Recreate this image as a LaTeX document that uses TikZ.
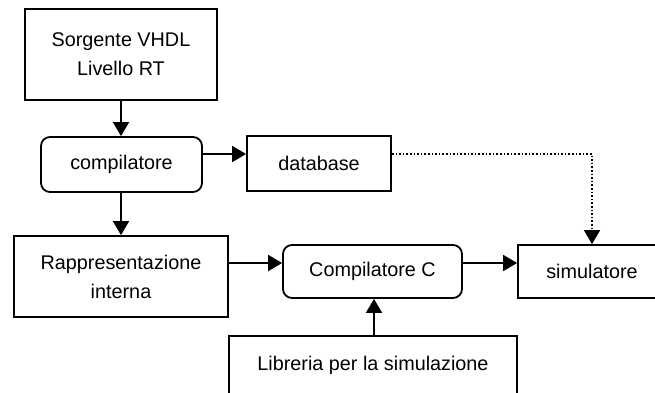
\documentclass[tikz,border=0pt]{standalone}
\usepackage{fontspec}
\setmainfont{Liberation Sans}
\usetikzlibrary{arrows.meta,calc}
\begin{document}
\begin{tikzpicture}[x=1pt,y=-1pt,
  every node/.style={font=\fontsize{19.8}{29}\selectfont, align=center, inner sep=0pt},
  sqbox/.style={draw, line width=1.8pt, rectangle},
  rbox/.style={draw, line width=1.8pt, rectangle, rounded corners=9pt},
  arr/.style={line width=1.8pt, -{Triangle[length=14pt,width=16pt]}},
  dotarr/.style={line width=1.6pt, dotted, -{Triangle[length=14pt,width=16pt]}}]
\useasboundingbox (0,0) rectangle (655,392);
\node[sqbox, minimum width=192pt, minimum height=91pt] (src) at (121,54.5) {Sorgente VHDL\\Livello RT};
\node[rbox, minimum width=161pt, minimum height=55pt] (comp) at (121.5,164.5) {compilatore};
\node[sqbox, minimum width=144pt, minimum height=55pt] (db) at (319,163.5) {database};
\node[sqbox, minimum width=214pt, minimum height=81pt] (rapp) at (121,276.5) {Rappresentazione\\interna};
\node[rbox, minimum width=179pt, minimum height=53pt] (cc) at (372.5,271.5) {Compilatore C};
\node[sqbox, minimum width=148pt, minimum height=53pt] (sim) at (592,271.5) {simulatore};
\node[sqbox, minimum width=288pt, minimum height=58pt] (lib) at (373,365) {Libreria per la simulazione};
\coordinate (ya) at (0,154);
\coordinate (yb) at (0,263);
\coordinate (xl) at (374,0);
\draw[arr] (src.south -| 121,0) -- (comp.north -| 121,0);
\draw[arr] (comp.south -| 121,0) -- (rapp.north -| 121,0);
\draw[arr] (comp.east |- ya) -- (db.west |- ya);
\draw[arr] (rapp.east |- yb) -- (cc.west |- yb);
\draw[arr] (cc.east |- yb) -- (sim.west |- yb);
\draw[arr] (lib.north -| xl) -- (cc.south -| xl);
\draw[dotarr] (db.east |- ya) -| (sim.north);
\end{tikzpicture}
\end{document}
